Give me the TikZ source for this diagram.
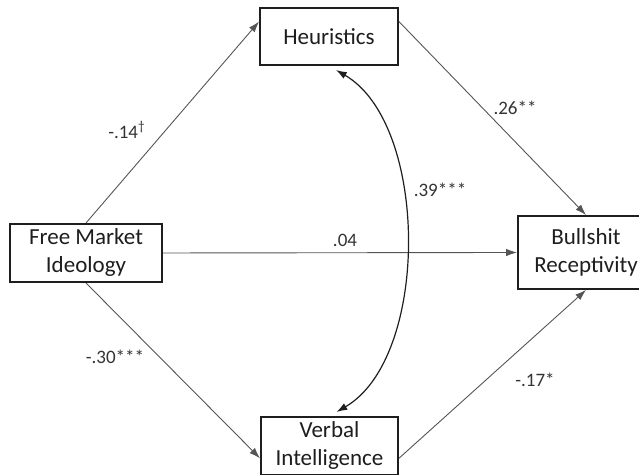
\documentclass[tikz,border=0pt]{standalone}
\usepackage{fontspec}
\setmainfont{Carlito}
\usepackage{tikz}
\usetikzlibrary{arrows.meta,positioning,calc}
\definecolor{Ink}{HTML}{1E1E1E}
\definecolor{Wire}{HTML}{555555}
\definecolor{Label}{HTML}{333333}
\tikzset{
  box/.style={draw=Ink,fill=white,line width=1pt,align=center,inner sep=1pt,font=\fontsize{11.5}{14}\selectfont,text=Ink},
  path/.style={-{Latex[length=1.9mm,width=1.3mm]},draw=Wire,line width=.45pt},
  corr/.style={{Latex[length=1.9mm,width=1.3mm]}-{Latex[length=1.9mm,width=1.3mm]},draw=Ink,line width=.6pt},
  coef/.style={font=\fontsize{9.5}{11}\selectfont,text=Label,inner sep=1pt}
}
\begin{document}
\begin{tikzpicture}[x=.5pt,y=.5pt]
        \useasboundingbox (0,0) rectangle (639,475);
        \node[box,minimum width=76pt,minimum height=29pt] (market) at (86,222) {Free Market\\Ideology};
        \node[box,minimum width=69pt,minimum height=28.5pt] (heur) at (329,438.5) {Heuristics};
        \node[box,minimum width=68pt,minimum height=36.5pt] (bull) at (586,222.5) {Bullshit\\Receptivity};
        \node[box,minimum width=68.5pt,minimum height=29pt] (verbal) at (329.5,29) {Verbal\\Intelligence};
        \draw[path] (market.north) -- (heur.168);
        \draw[path] (heur.12) -- (bull.north);
        \draw[path] (market.east) -- (bull.west);
        \draw[path] (market.south) -- (verbal.190);
        \draw[path] (verbal.350) -- (bull.south);
        \draw[corr,shorten <=4pt,shorten >=4pt] (heur.south) to[out=-30,in=30,looseness=.85] (verbal.north);
        \node[coef] (c1) at (127,345) {-.14\textsuperscript{†}};
        \node[coef] (c2) at (515,367) {.26**};
        \node[coef] (c3) at (440,285) {.39***};
        \node[coef] (c4) at (345,235) {.04};
        \node[coef] (c5) at (115,118) {-.30***};
        \node[coef] (c6) at (535,95) {-.17*};
      \end{tikzpicture}
\end{document}
